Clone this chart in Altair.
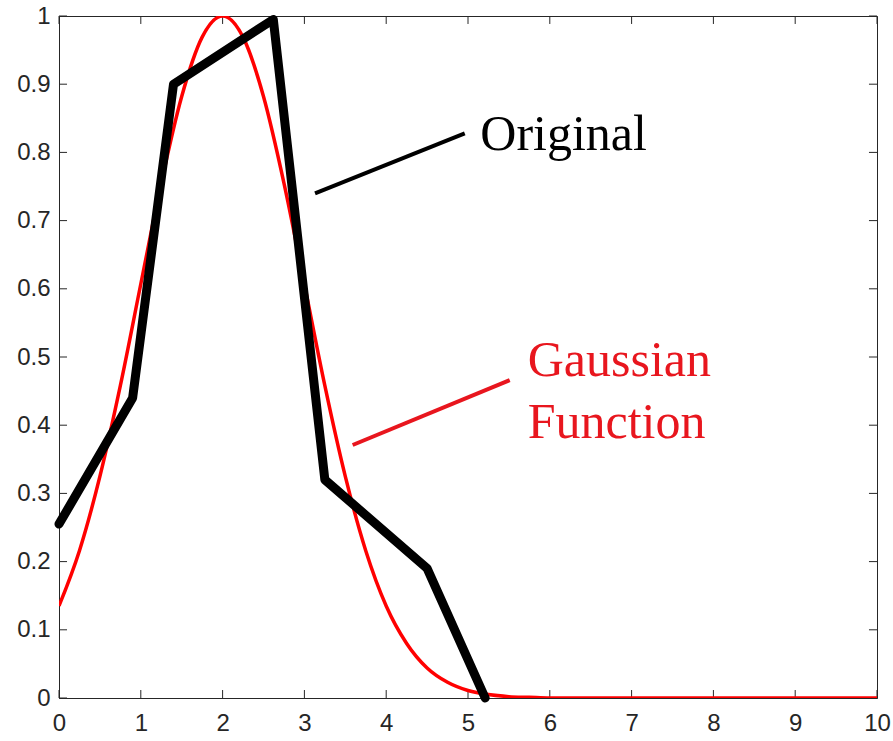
import altair as alt
import pandas as pd

# Original (black) polyline
orig_x = [0.0, 0.9, 1.4, 2.62, 3.25, 4.5, 5.21]
orig_y = [0.255, 0.44, 0.90, 0.995, 0.32, 0.19, 0.0]

# Gaussian (red) curve
gauss_x = [0.0, 0.25, 0.5, 0.75, 1.0, 1.25, 1.5, 1.75, 2.0, 2.25, 2.5, 2.75, 3.0,
           3.25, 3.5, 3.75, 4.0, 4.25, 4.5, 4.75, 5.0, 5.25, 5.5, 5.75, 6.0, 8.0, 10.0]
gauss_y = [0.135, 0.216, 0.325, 0.458, 0.607, 0.755, 0.882, 0.969, 1.0, 0.969, 0.882,
           0.755, 0.607, 0.458, 0.325, 0.216, 0.135, 0.080, 0.044, 0.023, 0.011,
           0.005, 0.002, 0.001, 0.0, 0.0, 0.0]

x_ticks = [0, 1, 2, 3, 4, 5, 6, 7, 8, 9, 10]
y_ticks = [0, 0.1, 0.2, 0.3, 0.4, 0.5, 0.6, 0.7, 0.8, 0.9, 1.0]

# annotation pointer lines and labels
orig_ptr_x = [3.13, 4.96]
orig_ptr_y = [0.740, 0.828]
gauss_ptr_x = [3.59, 5.51]
gauss_ptr_y = [0.371, 0.466]
label_text = ["Original", "Gaussian", "Function"]
label_x = [5.15, 5.73, 5.73]
label_y = [0.804, 0.472, 0.381]
label_color = ["#000000", "#e8161e", "#e8161e"]

W, H = 818, 682
AX = "#262626"

xs = alt.Scale(domain=[0, 10], nice=False, zero=False)
ys = alt.Scale(domain=[0, 1], nice=False, zero=False)

orig_df = pd.DataFrame({"x": orig_x, "y": orig_y})
gauss_df = pd.DataFrame({"x": gauss_x, "y": gauss_y})

x_axis = alt.Axis(values=x_ticks, tickSize=0, labelPadding=13, labelFont="Liberation Sans",
                  labelFontSize=24, labelColor=AX, domainColor=AX, grid=False, title=None,
                  labelFlush=False, format="d")
y_axis = alt.Axis(values=y_ticks, tickSize=0, labelPadding=9, labelFont="Liberation Sans",
                  labelFontSize=24, labelColor=AX, domainColor=AX, grid=False, title=None,
                  labelExpr="datum.value == 0 ? '0' : datum.value == 1 ? '1' : format(datum.value, '.1f')")

red = alt.Chart(gauss_df).mark_line(color="#ff0000", strokeWidth=3.5, interpolate="monotone", clip=True).encode(
    x=alt.X("x:Q", scale=xs, axis=x_axis),
    y=alt.Y("y:Q", scale=ys, axis=y_axis),
)

black = alt.Chart(orig_df).mark_line(color="#000000", strokeWidth=9, strokeJoin="round", strokeCap="round").encode(
    x=alt.X("x:Q", scale=xs), y=alt.Y("y:Q", scale=ys)
)

# inward ticks
tl = 0.0117
xt_df = pd.DataFrame({"x": x_ticks})
yt_df = pd.DataFrame({"y": y_ticks})
xb = alt.Chart(xt_df).mark_rule(color=AX, strokeWidth=1).encode(
    x=alt.X("x:Q", scale=xs), y=alt.datum(0.0), y2=alt.datum(tl))
xtop = alt.Chart(xt_df).mark_rule(color=AX, strokeWidth=1).encode(
    x=alt.X("x:Q", scale=xs), y=alt.datum(1.0), y2=alt.datum(1.0 - tl))
txl = 0.098
yl = alt.Chart(yt_df).mark_rule(color=AX, strokeWidth=1).encode(
    y=alt.Y("y:Q", scale=ys), x=alt.datum(0.0), x2=alt.datum(txl))
yr = alt.Chart(yt_df).mark_rule(color=AX, strokeWidth=1).encode(
    y=alt.Y("y:Q", scale=ys), x=alt.datum(10.0), x2=alt.datum(10.0 - txl))

optr = alt.Chart(pd.DataFrame({"x": orig_ptr_x, "y": orig_ptr_y})).mark_line(
    color="#000000", strokeWidth=4).encode(x=alt.X("x:Q", scale=xs), y=alt.Y("y:Q", scale=ys))
gptr = alt.Chart(pd.DataFrame({"x": gauss_ptr_x, "y": gauss_ptr_y})).mark_line(
    color="#e8161e", strokeWidth=4).encode(x=alt.X("x:Q", scale=xs), y=alt.Y("y:Q", scale=ys))

labels_df = pd.DataFrame({"t": label_text, "x": label_x, "y": label_y, "c": label_color})
labels = alt.Chart(labels_df).mark_text(
    align="left", baseline="alphabetic", font="Liberation Serif", fontSize=50).encode(
    x=alt.X("x:Q", scale=xs), y=alt.Y("y:Q", scale=ys), text="t:N",
    color=alt.Color("c:N", scale=None))

chart = alt.layer(xb, xtop, yl, yr, red, black, optr, gptr, labels).properties(
    width=W, height=H,
    autosize=alt.AutoSizeParams(type="none"),
    padding={"left": 59, "top": 16, "right": 16, "bottom": 43},
    background="white",
).configure_view(stroke=AX, strokeWidth=1)

chart.save("out.html", embed_options={"renderer": "svg", "actions": False})
